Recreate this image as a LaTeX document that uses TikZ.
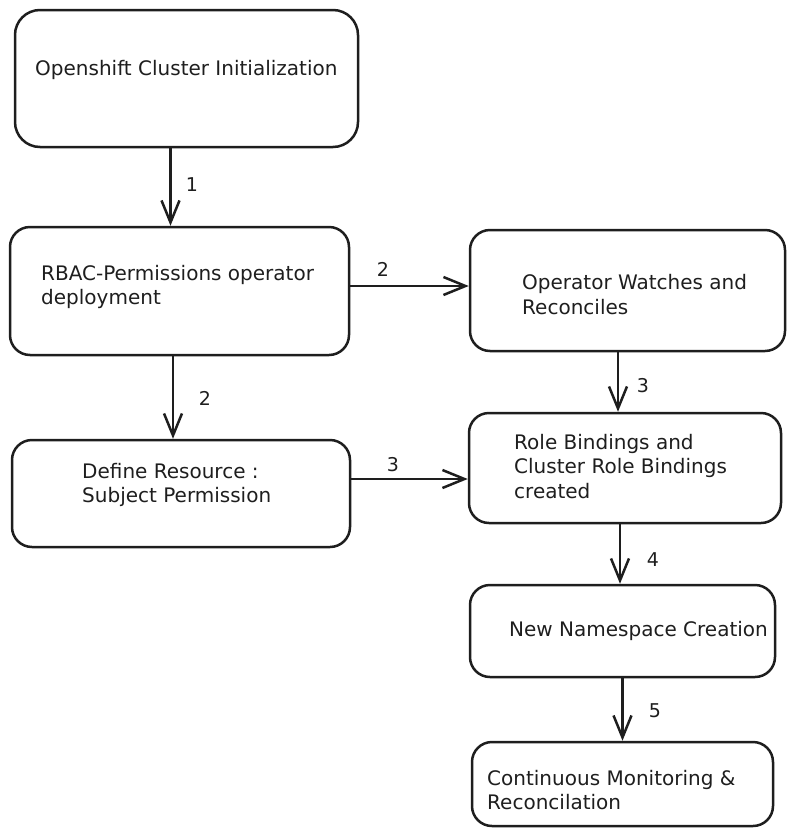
\documentclass[tikz,border=0pt]{standalone}
\usepackage{fontspec}
\setmainfont{DejaVu Sans}
\usetikzlibrary{arrows.meta}
\definecolor{ink}{HTML}{1E1E1E}
\begin{document}
\begin{tikzpicture}[x=1pt,y=-1pt,>={Straight Barb[length=22pt,width=18pt]},
    box/.style={draw=ink, line width=2.5pt, rounded corners=20pt, inner sep=0pt},
    txt/.style={anchor=west, inner sep=0pt, align=left, text=ink, font=\fontsize{20}{24.5}\selectfont},
    num/.style={inner sep=0pt, text=ink, font=\fontsize{19}{20}\selectfont},
    flow/.style={->, draw=ink, line width=2.5pt}]
\useasboundingbox (0,0) rectangle (793,836);

% boxes
\node[box, rounded corners=25pt, minimum width=343pt, minimum height=137pt] (init) at (186.5,78.5) {};
\node[box, minimum width=339pt, minimum height=128pt] (rbac) at (179.5,291) {};
\node[box, minimum width=315pt, minimum height=121pt] (watch) at (627.5,290.5) {};
\node[box, minimum width=338pt, minimum height=107pt] (define) at (181,493.5) {};
\node[box, minimum width=312pt, minimum height=110pt] (bind) at (625,468) {};
\node[box, minimum width=305pt, minimum height=92pt] (ns) at (622.5,631) {};
\node[box, minimum width=301pt, minimum height=84pt] (mon) at (622.5,784) {};

% texts
\node[txt] (tinit) at (35,70) {Openshift Cluster Initialization};
\node[txt] (trbac) at (41,287) {RBAC-Permissions operator\\deployment};
\node[txt] (twatch) at (522,294.5) {Operator Watches and\\Reconciles};
\node[txt] (tdefine) at (82,485) {Define Resource :\\Subject Permission};
\node[txt] (tbind) at (514,466.5) {Role Bindings and\\Cluster Role Bindings\\created};
\node[txt] (tns) at (509,631) {New Namespace Creation};
\node[txt] (tmon) at (487,790) {Continuous Monitoring \&\\Reconcilation};

% arrows
\draw[flow] ([xshift=-16pt]init.south) -- ([xshift=-9pt]rbac.north);
\draw[flow] ([yshift=5pt]rbac.east) -- ([yshift=4.5pt]watch.west);
\draw[flow] ([xshift=-6.5pt]rbac.south) -- ([xshift=-8pt]define.north);
\draw[flow] ([xshift=-9.5pt]watch.south) -- ([xshift=-7pt]bind.north);
\draw[flow] ([yshift=14.5pt]define.east) -- ([yshift=-11pt]bind.west);
\draw[flow] ([xshift=-5pt]bind.south) -- ([xshift=-2.5pt]ns.north);
\draw[flow] (ns.south) -- (mon.north);

% step numbers
\foreach \n/\x/\y/\s in {a/192/185/1, b/383/269/2, c/205/398/2, d/643/386/3, e/393/465/3, f/653/560/4, g/655/711/5}
{
    \node[num] (n\n) at (\x,\y) {\s};
}
\end{tikzpicture}
\end{document}
